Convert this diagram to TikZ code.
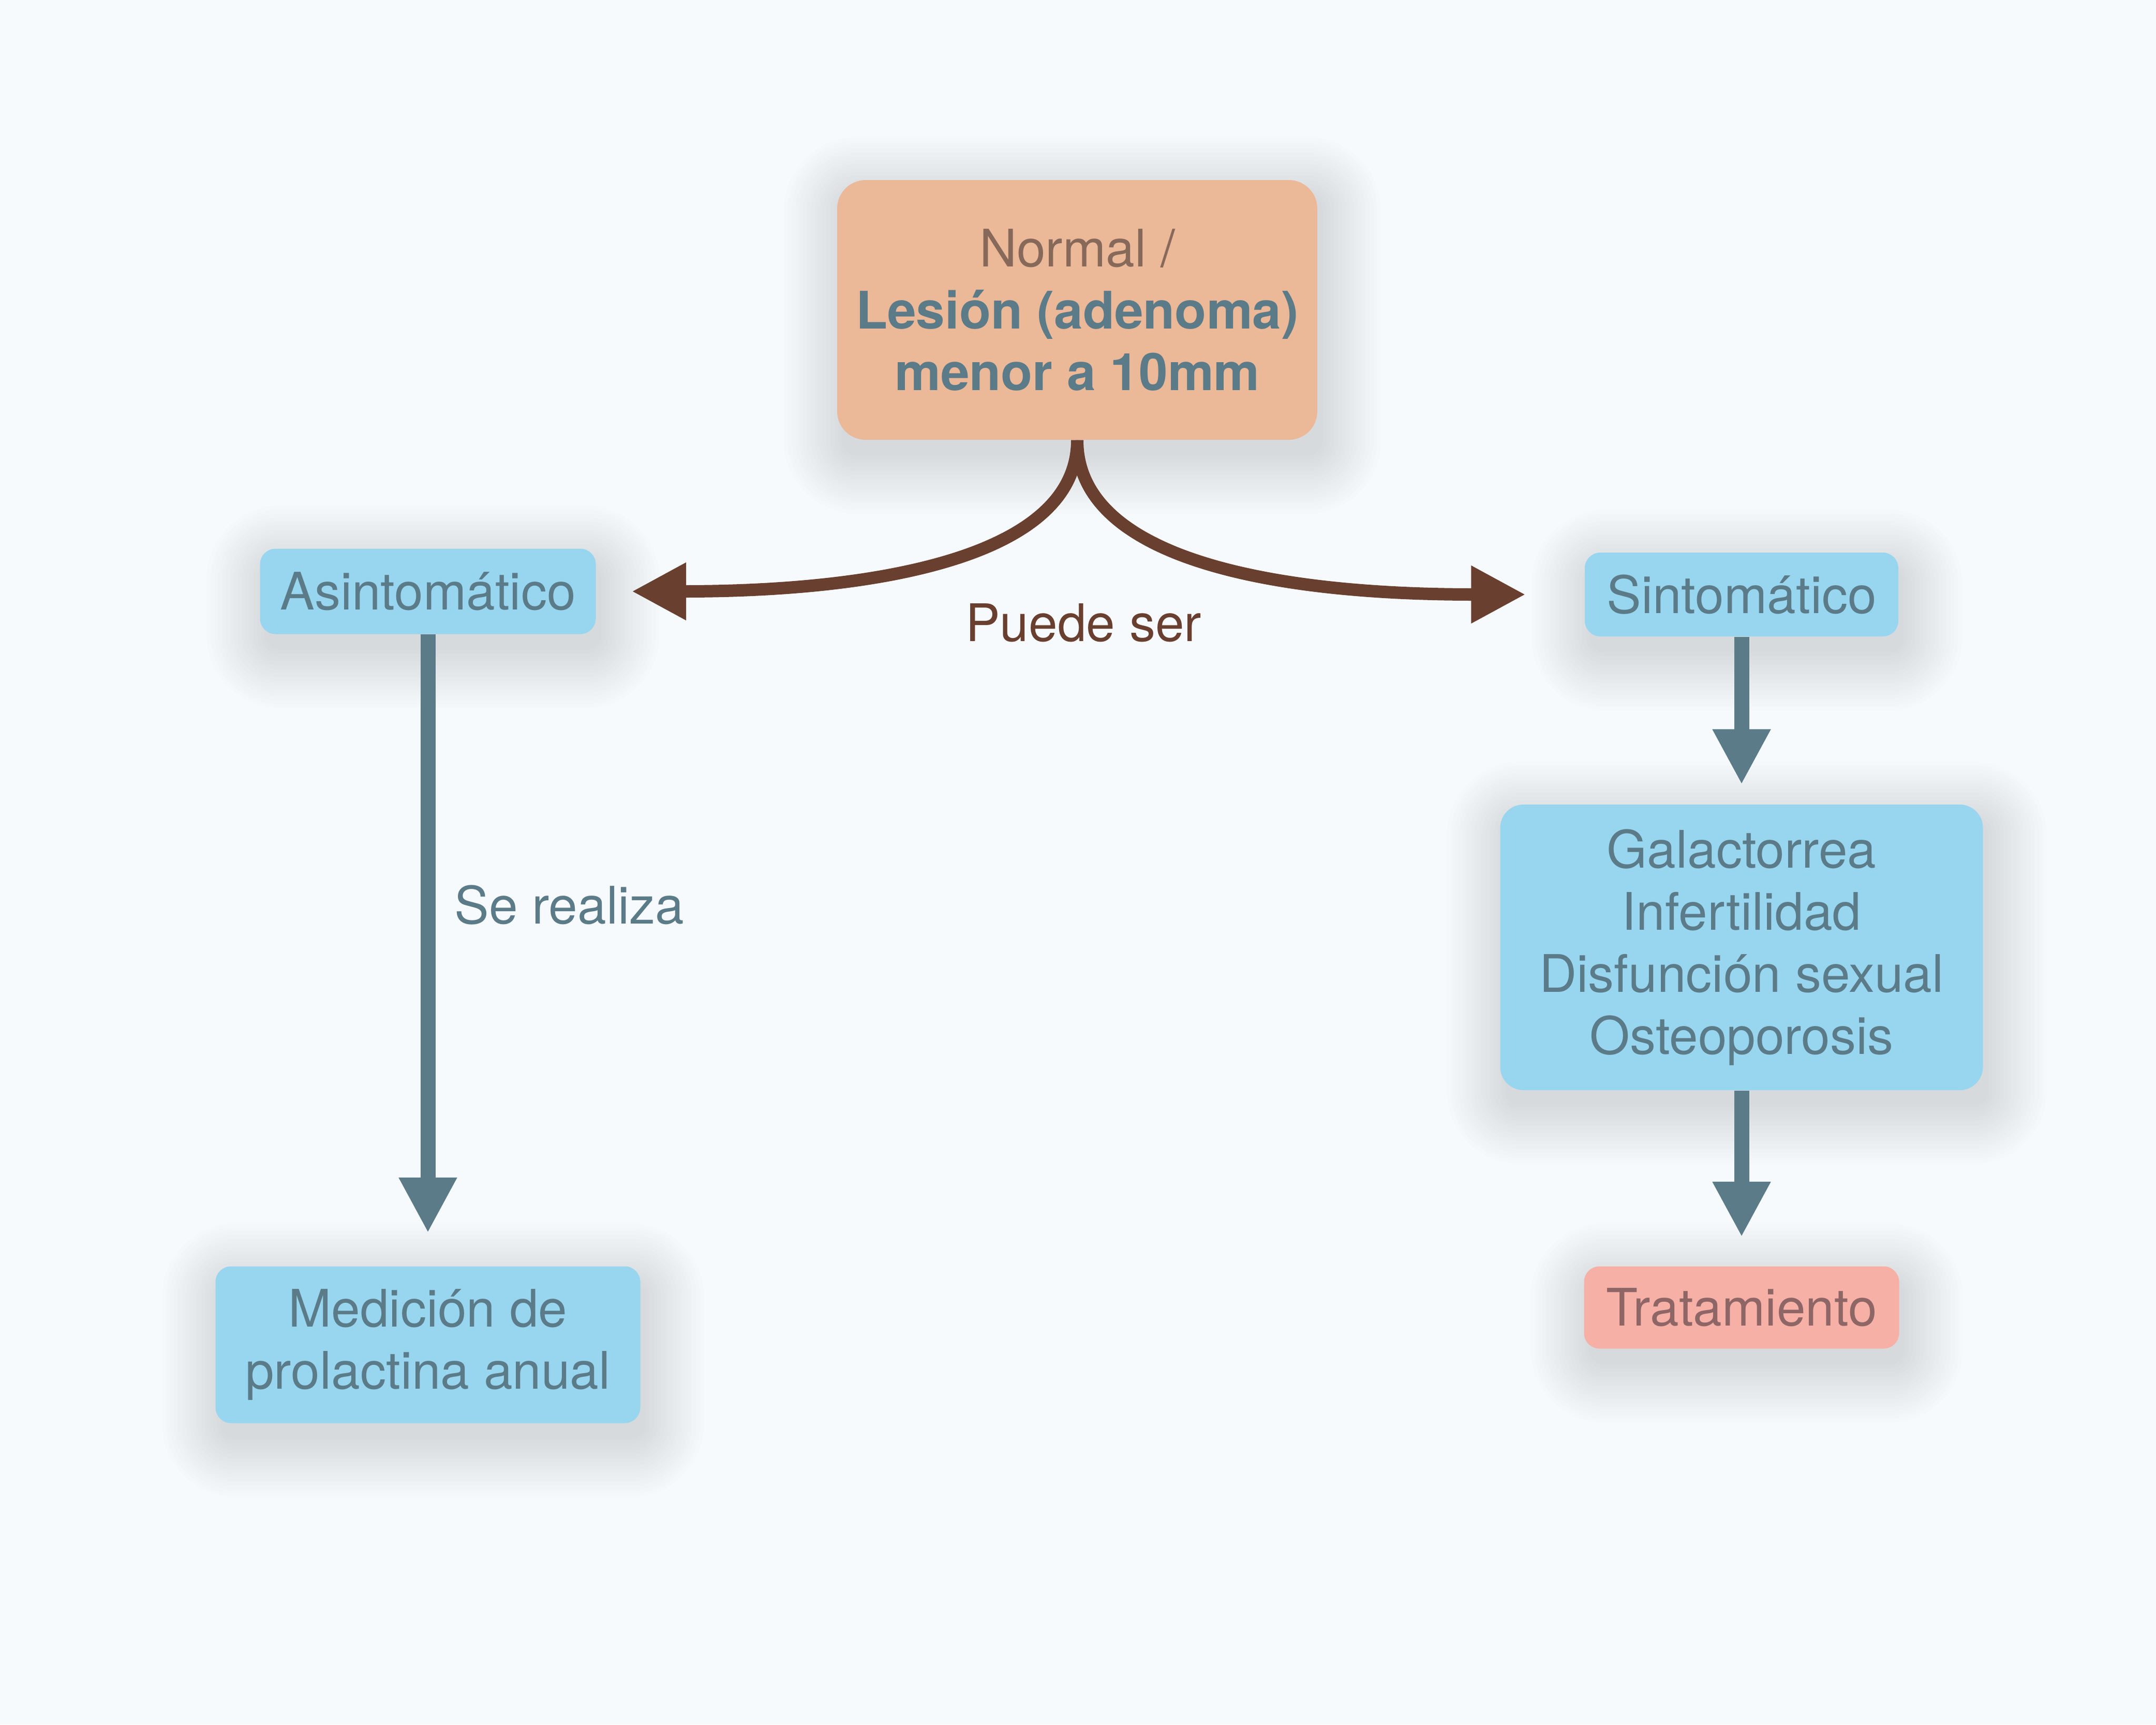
\documentclass[tikz,border=0pt]{standalone}
\usepackage{fontspec}
\setmainfont{TeX Gyre Heros}
\usetikzlibrary{arrows.meta}
\usetikzlibrary{backgrounds}

\definecolor{paper}{HTML}{F7FAFD}
\definecolor{peach}{HTML}{EBB898}
\definecolor{skyfill}{HTML}{98D5EF}
\definecolor{slate}{HTML}{5B7B88}
\definecolor{normalbrown}{HTML}{87695A}
\definecolor{salmon}{HTML}{F6B0A6}
\definecolor{rosetext}{HTML}{8E6666}
\definecolor{bark}{HTML}{693F2F}

\begin{document}
\begin{tikzpicture}[
  box/.style={rounded corners=0.3cm,inner sep=0pt,align=center,text=slate,
    font=\fontsize{28.45pt}{34.1pt}\selectfont},
  caption/.style={inner sep=0pt,font=\fontsize{28.45pt}{34.1pt}\selectfont},
  shadowlayer/.style={fill=black,opacity=0.0065},
  slatearrow/.style={draw=slate,line width=0.29cm,-{Triangle[length=1.07cm,width=1.05cm]}},
  barkarrow/.style={draw=bark,line width=0.24cm,-{Triangle[length=1.05cm,width=1.05cm]}}
]
\node (top) at (20.82,-5.99) [box,fill=peach,minimum width=9.28cm,minimum height=5.02cm,rounded corners=0.55cm] {{\color{normalbrown}Normal /}\\\textbf{Lesión (adenoma)}\\\textbf{menor a 10mm}};
\node (asin) at (8.27,-11.43) [box,fill=skyfill,minimum width=6.49cm,minimum height=1.65cm] {Asintomático};
\node (sint) at (33.66,-11.49) [box,fill=skyfill,minimum width=6.06cm,minimum height=1.62cm] {Sintomático};
\node (gal) at (33.66,-18.31) [box,fill=skyfill,minimum width=9.33cm,minimum height=5.52cm,rounded corners=0.45cm] {Galactorrea\\Infertilidad\\Disfunción sexual\\Osteoporosis};
\node (trat) at (33.66,-25.27) [box,fill=salmon,text=rosetext,minimum width=6.09cm,minimum height=1.59cm] {Tratamiento};
\node (med) at (8.27,-25.99) [box,fill=skyfill,minimum width=8.21cm,minimum height=3.03cm] {Medición de\\prolactina anual};
\node (puede) at (20.94,-12.04) [caption,text=bark] {Puede ser};
\draw[barkarrow,shorten >=0.69cm] (top.south) .. controls +(0,-2.2) and +(5.6,0) .. (asin.east);
\draw[barkarrow,shorten >=1.14cm] (top.south) .. controls +(0,-2.2) and +(-6.3,0) .. (sint.west);
\draw[slatearrow,shorten >=0.64cm] (asin.south) -- node[pos=0.428,right=0.37cm,caption,text=slate] (serealiza) {Se realiza} (med.north);
\draw[slatearrow,shorten >=0.38cm] (sint.south) -- (gal.north);
\draw[slatearrow,shorten >=0.56cm] (gal.south) -- (trat.north);
\begin{scope}[on background layer]
\fill[paper] (0,0) rectangle (41.67,-33.33);
\foreach \n in {top,asin,sint,gal,trat,med}
  \foreach \k in {0,...,15}
    \fill[shadowlayer,rounded corners=0.3cm+\k*0.075cm] ([shift={(0.1-\k*0.075,-0.3-\k*0.075)}]\n.south west) rectangle ([shift={(0.1+\k*0.075,-0.3+\k*0.075)}]\n.north east);
\end{scope}
\end{tikzpicture}
\end{document}
